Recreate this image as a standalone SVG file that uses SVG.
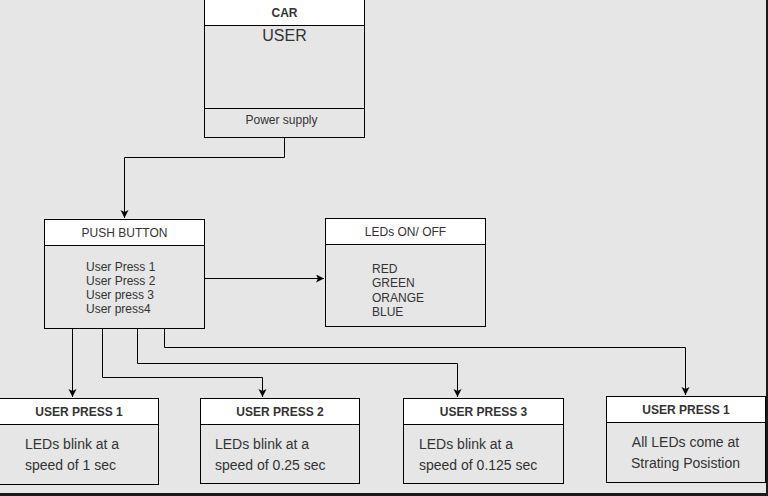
<svg xmlns="http://www.w3.org/2000/svg" width="768" height="496" viewBox="0 0 768 496">
<defs>
<style>
.bx{fill:#e6e6e6;stroke:#000;stroke-width:1}
.hd{fill:#fff;stroke:#000;stroke-width:1}
.t{font-family:"Liberation Sans",Arial,sans-serif;fill:#333;font-size:12px}
.b{font-weight:bold}
.c{text-anchor:middle}
.l{font-size:14px}
.cn{fill:none;stroke:#000;stroke-width:1}
</style>
<marker id="ah" markerWidth="10" markerHeight="10" refX="8" refY="4" orient="auto" markerUnits="userSpaceOnUse">
<path d="M0,0 L8,4 L0,8 L2,4 Z" fill="#000"/>
</marker>
</defs>
<rect x="0" y="0" width="768" height="496" fill="#e6e6e6"/>
<rect x="0" y="493" width="768" height="3" fill="#1a1a1a"/>
<rect x="766" y="0" width="2" height="496" fill="#1a1a1a"/>

<g id="car">
<rect class="bx" x="204.5" y="-1" width="160" height="138.5"/>
<rect class="hd" x="204.5" y="-1" width="160" height="26.5"/>
<line class="cn" x1="204.5" y1="108.5" x2="364.5" y2="108.5"/>
<text class="t b c" x="284.5" y="17">CAR</text>
<text class="t c" x="284.5" y="41" style="font-size:16px">USER</text>
<text class="t c" x="281.5" y="124">Power supply</text>
</g>

<g id="push-button">
<rect class="bx" x="44.5" y="219.5" width="160" height="109"/>
<rect class="hd" x="44.5" y="219.5" width="160" height="26"/>
<text class="t c" x="124.5" y="237">PUSH BUTTON</text>
<text class="t" x="86" y="271">User Press 1</text>
<text class="t" x="86" y="285">User Press 2</text>
<text class="t" x="86" y="299">User press 3</text>
<text class="t" x="86" y="313">User press4</text>
</g>

<g id="leds">
<rect class="bx" x="325.5" y="218.5" width="160" height="108"/>
<rect class="hd" x="325.5" y="218.5" width="160" height="26"/>
<text class="t c" x="405.5" y="236">LEDs ON/ OFF</text>
<text class="t" x="372" y="273">RED</text>
<text class="t" x="372" y="287">GREEN</text>
<text class="t" x="372" y="302">ORANGE</text>
<text class="t" x="372" y="316">BLUE</text>
</g>

<g id="press1">
<rect class="bx" x="-0.5" y="398.5" width="159" height="86"/>
<rect class="hd" x="-0.5" y="398.5" width="159" height="26"/>
<text class="t b c" x="79" y="416">USER PRESS 1</text>
<text class="t l" x="25" y="449">LEDs blink at a</text>
<text class="t l" x="25" y="470">speed of 1 sec</text>
</g>

<g id="press2">
<rect class="bx" x="200.5" y="398.5" width="159" height="85"/>
<rect class="hd" x="200.5" y="398.5" width="159" height="26"/>
<text class="t b c" x="280" y="416">USER PRESS 2</text>
<text class="t l" x="215" y="449">LEDs blink at a</text>
<text class="t l" x="215" y="470">speed of 0.25 sec</text>
</g>

<g id="press3">
<rect class="bx" x="403.5" y="398.5" width="160" height="85"/>
<rect class="hd" x="403.5" y="398.5" width="160" height="26"/>
<text class="t b c" x="483.5" y="416">USER PRESS 3</text>
<text class="t l" x="419" y="449">LEDs blink at a</text>
<text class="t l" x="419" y="470">speed of 0.125 sec</text>
</g>

<g id="press4">
<rect class="bx" x="606.5" y="396.5" width="159" height="86"/>
<rect class="hd" x="606.5" y="396.5" width="159" height="26"/>
<text class="t b c" x="686" y="414">USER PRESS 1</text>
<text class="t l c" x="685.5" y="447">All LEDs come at</text>
<text class="t l c" x="685.5" y="468">Strating Posistion</text>
</g>

<g id="connectors">
<path class="cn" d="M284.5,137.5 V157.5 H124.5 V218" marker-end="url(#ah)"/>
<path class="cn" d="M204.5,278.5 H324" marker-end="url(#ah)"/>
<path class="cn" d="M72.5,328.5 V397" marker-end="url(#ah)"/>
<path class="cn" d="M102.5,328.5 V377.5 H262.5 V397" marker-end="url(#ah)"/>
<path class="cn" d="M137.5,328.5 V363.5 H457.5 V397" marker-end="url(#ah)"/>
<path class="cn" d="M164.5,328.5 V347.5 H685.5 V395" marker-end="url(#ah)"/>
</g>
</svg>
